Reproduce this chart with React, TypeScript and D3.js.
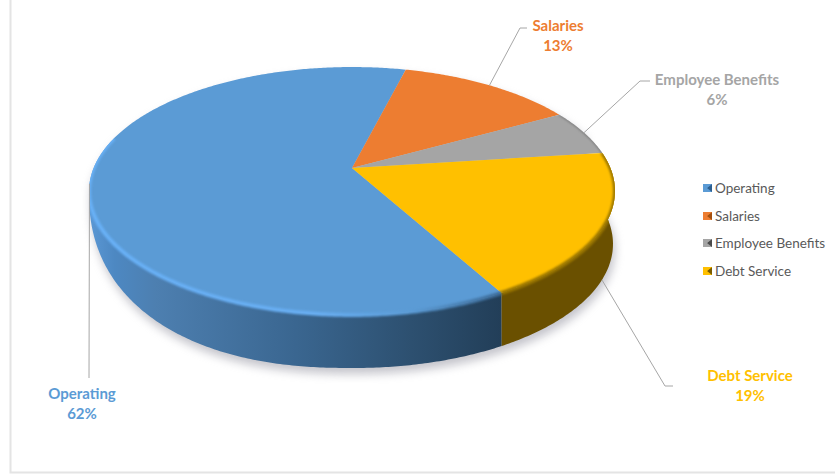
import React from "react";
import * as d3 from "d3";

const categories = ["Operating", "Salaries", "Employee Benefits", "Debt Service"];
const shares = [62, 13, 6, 19];
const colors = ["#5b9bd5", "#ed7d31", "#a5a5a5", "#ffc000"];
const legendShades = ["#2d5f8f", "#a3500f", "#4a4a4a", "#7a5c00"];
const legendRowY = [188, 216, 243, 271];
const labelCentres = [[82, 399], [558, 31], [717, 85], [750, 381]];
const leaderElbows = [
  [[89, 378], [89, 378]],
  [[520, 28], [527, 28]],
  [[640, 81], [650, 81]],
  [[665, 386], [673, 386]],
];

const W = 835;
const H = 476;
const FONT = "Lato, 'Noto Sans', sans-serif";
const START = (151 * Math.PI) / 180;
const TILT = 0.1855;
const APEX: [number, number] = [352, 168];
const TURN = Math.PI * 2;

// Perspective projection of a disc: theta runs clockwise from the far side.
const projector = (cx: number, cy: number, a: number, b: number) => (t: number): [number, number] => {
  const w = 1 + TILT * Math.cos(t);
  return [cx + (a * Math.sin(t)) / w, cy - (b * Math.cos(t)) / w];
};
const topRim = projector(APEX[0], APEX[1], 258.4, 119.7);
const lowerRim = projector(355, 221, 253.5, 119.7);

// Lower outline of the side wall. The right half follows the lower rim; the left half
// is a squarer curve, so the wall stays full height around the left shoulder.
const LEFT_EXTREME = TURN - Math.acos(-TILT);
const wallFoot = (angle: number): [number, number] => {
  const t = ((angle % TURN) + TURN) % TURN;
  if (t <= Math.PI) return lowerRim(t);
  const x = topRim(t)[0];
  const u = Math.min(1, Math.abs(x - 352) / 263.2);
  return [x, 190 + 178 * Math.pow(1 - Math.pow(u, 2.3), 1 / 2.3)];
};

const sample = (a: number, b: number) => {
  const n = Math.max(2, Math.ceil(Math.abs(b - a) / 0.01));
  return d3.range(n + 1).map((i) => a + ((b - a) * i) / n);
};
const line = d3.line<[number, number]>();

const arcs = d3
  .pie<number>()
  .sort(null)
  .startAngle(START)
  .endAngle(START + TURN)(shares);

const wedgePath = (a: number, b: number) => line([APEX, ...sample(a, b).map(topRim)]) + "Z";
const wallPath = (a: number, b: number) =>
  line([...sample(a, b).map(topRim), ...sample(b, a).map(wallFoot)]) + "Z";
const rimPath = (a: number, b: number) => line(sample(a, b).map(topRim)) as string;

const topOutline = line(sample(0, TURN).map(topRim)) + "Z";
const frontWall = wallPath(Math.PI * 0.4, LEFT_EXTREME);
const shadowOutline =
  line([...sample(LEFT_EXTREME, Math.PI * 2.4).map(topRim), ...sample(Math.PI * 0.4, LEFT_EXTREME).map(wallFoot)]) + "Z";

const opArc = arcs[0];
const benefitsArc = arcs[2];
const debtArc = arcs[3];
const rimEnd = (285 * Math.PI) / 180;

// Leader lines begin on the rim, at each slice's mid-angle; the debt slice uses the lower rim.
const leaderPoints = arcs.map((d, i) => {
  const mid = (d.startAngle + d.endAngle) / 2;
  const from = i === 3 ? lowerRim(mid) : topRim(mid);
  return [from, ...leaderElbows[i]] as [number, number][];
});

export default function App() {
  return (
    <svg
      width={W}
      height={H}
      viewBox={`0 0 ${W} ${H}`}
      style={{ position: "absolute", left: 0, top: 0, background: "#fff" }}
    >
      <defs>
        <linearGradient id="opWall" gradientUnits="userSpaceOnUse" x1={90} x2={502} y1={0} y2={0}>
          <stop offset="0" stopColor="#5a97d4" />
          <stop offset="0.06" stopColor="#4d88c2" />
          <stop offset="0.16" stopColor="#4d7fb0" />
          <stop offset="0.5" stopColor="#3a6690" />
          <stop offset="0.78" stopColor="#2d5070" />
          <stop offset="1" stopColor="#223e58" />
        </linearGradient>
        <linearGradient id="opRim" gradientUnits="userSpaceOnUse" x1={90} x2={502} y1={0} y2={0}>
          <stop offset="0" stopColor="#68b0f6" />
          <stop offset="0.55" stopColor="#68aef2" />
          <stop offset="0.78" stopColor="#5b9bd5" />
          <stop offset="1" stopColor="#3c6a96" />
        </linearGradient>
        <filter id="soft" x="-20%" y="-20%" width="140%" height="140%">
          <feGaussianBlur stdDeviation="5" />
        </filter>
        <filter id="bevel" x="-5%" y="-5%" width="110%" height="110%">
          <feGaussianBlur stdDeviation="1" />
        </filter>
        <clipPath id="discClip">
          <path d={topOutline} />
          <path d={frontWall} />
        </clipPath>
      </defs>

      {/* Frame along the left and bottom edges */}
      <path d={`M10.5 0V472.5H${W}`} fill="none" stroke="#e4e4e4" strokeWidth={2} />

      {/* Drop shadow under the disc */}
      <path d={shadowOutline} transform="translate(2 6)" fill="#8a8a98" opacity={0.5} filter="url(#soft)" />

      {/* Side walls */}
      <path d={wallPath(opArc.startAngle, LEFT_EXTREME)} fill="url(#opWall)" />
      <path d={wallPath(debtArc.startAngle, debtArc.endAngle)} fill="#6a5000" />

      {/* Top faces */}
      {arcs.map((d, i) => (
        <path key={categories[i]} d={wedgePath(d.startAngle, d.endAngle)} fill={colors[i]} />
      ))}

      {/* Soft bevel along the rim */}
      <g clipPath="url(#discClip)">
        <path d={rimPath(opArc.startAngle, rimEnd)} fill="none" stroke="url(#opRim)" strokeWidth={4} filter="url(#bevel)" />
        <path d={rimPath(debtArc.startAngle, debtArc.endAngle)} fill="none" stroke="#9a7600" strokeWidth={4} filter="url(#bevel)" />
        <path d={rimPath(benefitsArc.startAngle, benefitsArc.endAngle)} fill="none" stroke="#7d7d7d" strokeWidth={2} filter="url(#bevel)" />
      </g>

      {/* Leader lines */}
      {leaderPoints.map((pts, i) => (
        <path key={i} d={line(pts) as string} fill="none" stroke="#a6a6a6" strokeWidth={1} />
      ))}

      {/* Data labels */}
      {arcs.map((d, i) => (
        <text
          key={i}
          x={labelCentres[i][0]}
          y={labelCentres[i][1]}
          textAnchor="middle"
          fontFamily={FONT}
          fontWeight={700}
          fontSize={15}
          fill={colors[i]}
        >
          <tspan x={labelCentres[i][0]}>{categories[i]}</tspan>
          <tspan x={labelCentres[i][0]} dy={20}>{`${d.data}%`}</tspan>
        </text>
      ))}

      {/* Legend */}
      {categories.map((c, i) => (
        <g key={c} transform={`translate(703 ${legendRowY[i]})`}>
          <rect x={0} y={-4} width={9} height={8} fill={colors[i]} />
          <path d="M9 -4L4 0L9 4Z" fill={legendShades[i]} />
          <path d="M0 -4H9L4 0Z" fill={colors[i]} opacity={0.6} />
          <text x={12} y={4.5} fontFamily={FONT} fontSize={13.5} fill="#595959">
            {c}
          </text>
        </g>
      ))}
    </svg>
  );
}
